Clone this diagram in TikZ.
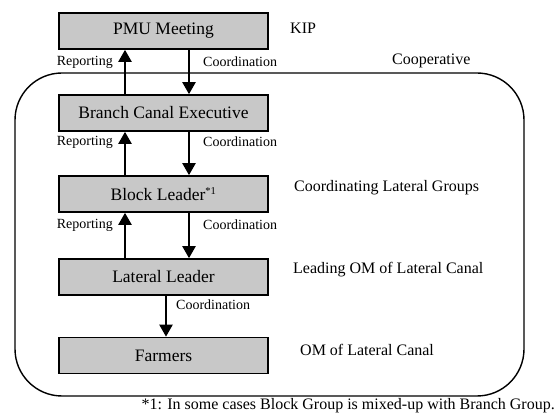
\documentclass[tikz,border=0pt]{standalone}
\usepackage{fontspec}
\setmainfont{Liberation Serif}
\usetikzlibrary{arrows.meta}
\definecolor{boxgray}{RGB}{200,200,200}
\tikzset{
  level/.style={draw=black, line width=1.6pt, fill=boxgray, minimum width=209pt,
    minimum height=36pt, inner sep=0pt, font=\fontsize{17.5}{20}\selectfont},
  flow/.style={line width=2.2pt, -{Triangle[width=13pt,length=12pt]}},
  flowlbl/.style={inner sep=0pt, font=\fontsize{14}{16}\selectfont},
  note/.style={inner sep=0pt, anchor=west, font=\fontsize{16}{18}\selectfont},
  group/.style={draw=black, line width=1.4pt, rounded corners=47pt, inner sep=0pt,
    minimum width=509pt, minimum height=323pt}
}
\begin{document}
\begin{tikzpicture}[x=1pt, y=-1pt]
\useasboundingbox (0,0) rectangle (558,414);

% cooperative boundary
\node[group] (coop) at (269.5,234.5) {};

% hierarchy levels
\node[level] (pmu) at (163.5,31) {PMU Meeting};
\node[level] (bce) at (163.5,113) {Branch Canal Executive};
\node[level] (blk) at (163.5,194) {Block Leader\textsuperscript{\fontsize{10.5}{11}\selectfont *1}};
\node[level] (lat) at (163.5,277) {Lateral Leader};
\node[level] (frm) at (163.5,355.5) {Farmers};

% reporting (up) and coordination (down)
\draw[flow] ([xshift=-38.5pt]bce.north) -- ([xshift=-38.5pt]pmu.south);
\draw[flow] ([xshift=25.5pt]pmu.south) -- ([xshift=25.5pt]bce.north);
\draw[flow] ([xshift=-38.5pt]blk.north) -- ([xshift=-38.5pt]bce.south);
\draw[flow] ([xshift=25.5pt]bce.south) -- ([xshift=25.5pt]blk.north);
\draw[flow] ([xshift=-38.5pt]lat.north) -- ([xshift=-38.5pt]blk.south);
\draw[flow] ([xshift=25.5pt]blk.south) -- ([xshift=25.5pt]lat.north);
\draw[flow] ([xshift=2.5pt]lat.south) -- ([xshift=2.5pt]frm.north);

% arrow labels
\node[flowlbl, anchor=east] (rep1) at (113,62) {Reporting};
\node[flowlbl, anchor=west] (coo1) at (203,62) {Coordination};
\node[flowlbl, anchor=east] (rep2) at (113,142) {Reporting};
\node[flowlbl, anchor=west] (coo2) at (203,142) {Coordination};
\node[flowlbl, anchor=east] (rep3) at (113,225) {Reporting};
\node[flowlbl, anchor=west] (coo3) at (203,225) {Coordination};
\node[flowlbl, anchor=west] (coo4) at (176,305) {Coordination};

% descriptions on the right
\node[note] (kip) at (290,28) {KIP};
\node[note] (cooplbl) at (392,61) {Cooperative};
\node[note] (d1) at (294,188) {Coordinating Lateral Groups};
\node[note] (d2) at (293,270) {Leading OM of Lateral Canal};
\node[note] (d3) at (300,350) {OM of Lateral Canal};

% footnote
\node[note, anchor=east] (fn) at (555,406) {*1: In some cases Block Group is mixed-up with Branch Group.};
\end{tikzpicture}
\end{document}
